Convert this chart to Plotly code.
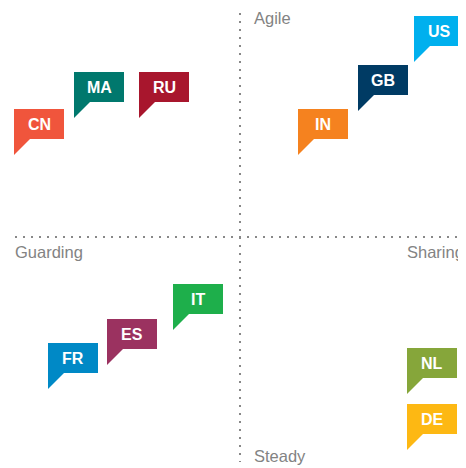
import plotly.graph_objects as go

# position of each bubble's tail tip; x: Guarding(-) -> Sharing(+), y: Steady(-) -> Agile(+)
countries = ['CN', 'MA', 'RU', 'IN', 'GB', 'US', 'FR', 'ES', 'IT', 'NL', 'DE']
x_vals = [-226, -166, -101, 58, 118, 174, -192, -133, -67, 167, 167]
y_vals = [82, 119, 119, 82, 126, 175, -152, -128, -93, -157, -213]
colors = ['#F0553C', '#00786D', '#A8162D', '#F5821F', '#003B64', '#00B0EE',
          '#0089C6', '#9B3260', '#1EAF4B', '#86A63A', '#FDB813']

axis_labels = ['Agile', 'Steady', 'Guarding', 'Sharing']

# the page body has an 8px margin, so the figure is a little smaller than the window
OFF = 8
W, H = 466 - OFF, 468 - OFF
CX, CY = 240, 237  # page pixel position of the origin


def px(p):
    return p - CX


def py(p):
    return CY - p


# speech bubble outline in pixels relative to the tail tip (y up)
bubble = 'M0,0 L0,46 L50,46 L50,16 L16,16 Z'

fig = go.Figure()
# invisible trace so the axes exist
fig.add_trace(go.Scatter(x=x_vals, y=y_vals, mode='markers',
                         marker=dict(size=1, opacity=0), hoverinfo='skip',
                         showlegend=False))

shapes = []
annotations = []

grey = '#888888'
shapes.append(dict(type='line', x0=0, x1=0, y0=py(13), y1=py(462),
                   line=dict(color=grey, width=2, dash='2px,6px')))
shapes.append(dict(type='line', x0=px(15), x1=px(466), y0=0, y1=0,
                   line=dict(color=grey, width=2, dash='2px,6px')))

for c, x, y, col in zip(countries, x_vals, y_vals, colors):
    shapes.append(dict(type='path', xref='x', yref='y',
                       xsizemode='pixel', ysizemode='pixel',
                       xanchor=x, yanchor=y, path=bubble,
                       fillcolor=col, line=dict(width=0)))
    annotations.append(dict(x=x, y=y, xshift=25, yshift=31, text='<b>' + c + '</b>',
                            showarrow=False, xanchor='center', yanchor='middle',
                            font=dict(color='white', size=16,
                                      family='Liberation Sans, Arial, sans-serif')))

lab_font = dict(color='#838383', size=16.5, family='Liberation Sans, Arial, sans-serif')
annotations.append(dict(x=px(252), y=py(18), text=axis_labels[0], showarrow=False,
                        xanchor='left', yanchor='middle', font=lab_font))
annotations.append(dict(x=px(252), y=py(456), text=axis_labels[1], showarrow=False,
                        xanchor='left', yanchor='middle', font=lab_font))
annotations.append(dict(x=px(13), y=py(252), text=axis_labels[2], showarrow=False,
                        xanchor='left', yanchor='middle', font=lab_font))
annotations.append(dict(x=px(466), y=py(252), text=axis_labels[3], showarrow=False,
                        xanchor='right', yanchor='middle', font=lab_font))

fig.update_layout(
    width=W, height=H,
    margin=dict(l=0, r=0, t=0, b=0),
    paper_bgcolor='white', plot_bgcolor='white',
    xaxis=dict(range=[px(OFF), px(466)], visible=False, fixedrange=True),
    yaxis=dict(range=[py(468), py(OFF)], visible=False, fixedrange=True),
    shapes=shapes, annotations=annotations,
)

fig.write_html('out.html')
